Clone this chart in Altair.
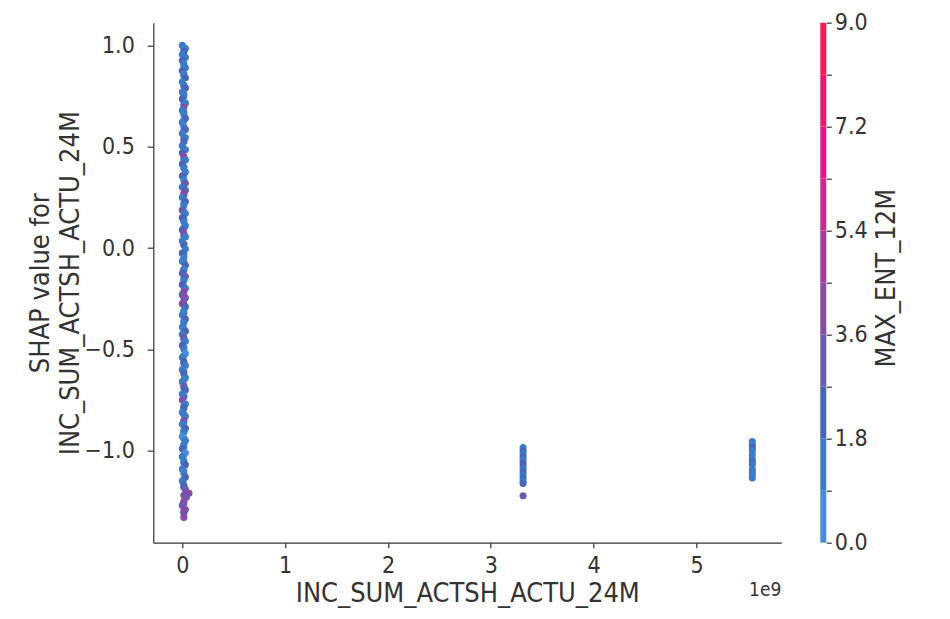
import altair as alt
import pandas as pd

# ---------------- data ----------------
# column of points at INC_SUM_ACTSH_ACTU_24M ~ 0 (back layer of the dense column)
back_shap = [
    0.99, 0.95, 0.90, 0.85, 0.80, 0.76, 0.71, 0.67, 0.63, 0.58,
    0.54, 0.49, 0.44, 0.40, 0.36, 0.31, 0.26, 0.22, 0.18, 0.14,
    0.10, 0.06, 0.02, -0.03, -0.07, -0.11, -0.15, -0.19, -0.24, -0.28,
    -0.32, -0.36, -0.40, -0.45, -0.49, -0.53, -0.57, -0.61, -0.65, -0.69,
    -0.73, -0.78, -0.82, -0.86, -0.90, -0.94, -0.98, -1.02, -1.06, -1.10,
    -1.14, -1.18, -1.22, -1.26, -1.30,
]
back_ent = [
    1, 2, 1, 1, 2, 1, 1, 2, 1, 1,
    2, 1, 1, 2, 1, 1, 2, 1, 1, 2,
    1, 1, 2, 1, 1, 2, 1, 4, 3, 1,
    2, 1, 1, 2, 1, 1, 2, 1, 1, 2,
    1, 1, 2, 1, 1, 2, 1, 1, 2, 1,
    1, 3, 4, 3, 4,
]
back_inc = 1.5e7

# front layer of the same column
zero_inc = [
    0, 3e7, 1.5e7, 0, 3e7, 0, 1.5e7, 3e7, 0, 1.5e7,
    3e7, 0, 1.5e7, 3e7, 0, 1.5e7, 0, 3e7, 1.5e7, 0,
    1.5e7, 3e7, 0, 1.5e7, 3e7, 0, 3e7, 1.5e7, 0, 3e7,
    0, 1.5e7, 3e7, 0, 1.5e7, 3e7, 0, 1.5e7, 3e7, 0,
    3e7, 1.5e7, 0, 3e7, 1.5e7, 0, 3e7, 0, 1.5e7, 3e7,
    0, 1.5e7, 3e7, 0, 1.5e7, 3e7, 0, 1.5e7, 0, 3e7,
    1.5e7, 0, 3e7, 1.5e7, 0, 3e7, 1.5e7, 0, 3e7, 1.5e7,
    0, 3e7, 1.5e7, 0, 3e7, 1.5e7, 0, 3e7, 0, 1.5e7,
    3e7, 0, 1.5e7, 3e7, 0, 1.5e7, 3e7, 0, 1.5e7, 3e7,
    0, 1.5e7, 3e7, 0, 1.5e7, 0, 3e7, 1.5e7, 0, 3e7,
    1.5e7, 0, 3e7, 1.5e7, 0, 3e7, 1.5e7, 0, 3e7, 0,
    1.5e7, 3e7, 0, 1.5e7, 3e7, 0, 1.5e7, 3e7, 6.5e7, 4e7,
    1.5e7, 0, 3e7, 1.5e7, 1.5e7,
]
zero_shap = [
    1.00, 0.985, 0.97, 0.955, 0.94, 0.925, 0.91, 0.89, 0.875, 0.86,
    0.84, 0.82, 0.805, 0.79, 0.77, 0.75, 0.735, 0.715, 0.695, 0.68,
    0.66, 0.64, 0.62, 0.60, 0.585, 0.565, 0.545, 0.525, 0.505, 0.485,
    0.47, 0.453, 0.435, 0.415, 0.395, 0.375, 0.355, 0.335, 0.32, 0.30,
    0.285, 0.27, 0.25, 0.23, 0.21, 0.187, 0.17, 0.15, 0.13, 0.11,
    0.09, 0.073, 0.055, 0.035, 0.015, -0.005, -0.025, -0.045, -0.065, -0.085,
    -0.105, -0.125, -0.14, -0.16, -0.18, -0.20, -0.215, -0.23, -0.245, -0.26,
    -0.275, -0.29, -0.31, -0.33, -0.35, -0.37, -0.39, -0.41, -0.425, -0.44,
    -0.46, -0.48, -0.50, -0.52, -0.54, -0.56, -0.58, -0.60, -0.62, -0.64,
    -0.66, -0.68, -0.70, -0.72, -0.735, -0.75, -0.77, -0.79, -0.81, -0.83,
    -0.85, -0.87, -0.89, -0.91, -0.93, -0.95, -0.97, -0.99, -1.01, -1.03,
    -1.05, -1.07, -1.09, -1.11, -1.13, -1.15, -1.17, -1.19, -1.21, -1.23,
    -1.25, -1.27, -1.29, -1.31, -1.33,
]
zero_ent = [
    1, 1, 2, 1, 1, 2, 1, 1, 2, 1,
    2, 1, 1, 2, 1, 1, 2, 1, 4, 1,
    1, 2, 1, 1, 2, 1, 1, 2, 1, 1,
    2, 4, 1, 2, 1, 1, 2, 1, 3, 1,
    2, 4, 1, 2, 1, 3, 1, 2, 1, 1,
    2, 4, 1, 1, 2, 1, 2, 1, 1, 2,
    1, 2, 3, 1, 2, 1, 4, 3, 4, 3,
    4, 2, 1, 1, 2, 1, 1, 2, 1, 3,
    1, 2, 1, 0, 1, 2, 1, 1, 2, 1,
    1, 3, 2, 1, 1, 4, 1, 2, 1, 1,
    3, 1, 2, 1, 0, 1, 1, 2, 0, 1,
    1, 2, 1, 1, 2, 1, 2, 3, 4, 3,
    4, 3, 4, 3, 4,
]

# cluster at ~3.3e9
mid_inc = 3.314e9
mid_shap = [-0.985, -1.0, -1.015, -1.03, -1.045, -1.06, -1.075,
            -1.09, -1.105, -1.12, -1.135, -1.15, -1.162, -1.222]
mid_ent = [1, 2, 1, 2, 1, 2, 2, 1, 2, 1, 2, 1, 2, 3]

# cluster at ~5.5e9
far_inc = 5.543e9
far_shap = [-0.955, -0.97, -0.985, -1.0, -1.02, -1.04, -1.055,
            -1.07, -1.09, -1.105, -1.12, -1.135]
far_ent = [1, 1, 2, 1, 1, 1, 2, 1, 1, 1, 1, 1]

# colour bar (discrete, 10 bins from 0 to 9)
bin_lo = [0.0, 0.9, 1.8, 2.7, 3.6, 4.5, 5.4, 6.3, 7.2, 8.1]
bin_hi = [0.9, 1.8, 2.7, 3.6, 4.5, 5.4, 6.3, 7.2, 8.1, 9.0]
bin_mid = [0.45, 1.35, 2.25, 3.15, 4.05, 4.95, 5.85, 6.75, 7.65, 8.55]
palette = ["#468fd6", "#3d7dc6", "#4a64b6", "#6a5bb0", "#8a4aa5",
           "#a43c9c", "#c52b92", "#e3148c", "#ec186b", "#f01c55"]
cbar_ticks = [0.0, 0.9, 1.8, 2.7, 3.6, 4.5, 5.4, 6.3, 7.2, 8.1, 9.0]

x_ticks = [0, 1e9, 2e9, 3e9, 4e9, 5e9]
y_ticks = [-1.0, -0.5, 0.0, 0.5, 1.0]

# ---------------- tables ----------------
pts = pd.DataFrame({
    "inc": [back_inc] * len(back_shap) + list(zero_inc)
           + [mid_inc] * len(mid_shap) + [far_inc] * len(far_shap),
    "shap": back_shap + zero_shap + mid_shap + far_shap,
    "ent": back_ent + zero_ent + mid_ent + far_ent,
})
bins = pd.DataFrame({"lo": bin_lo, "hi": bin_hi, "ent": bin_mid})

W, H = 628, 520
FONT = "DejaVu Sans Condensed, DejaVu Sans"
INK = "#333333"

color_scale = alt.Scale(type="quantize", domain=[0, 9], range=palette, nice=False, zero=False)

scatter = alt.Chart(pts).mark_circle(size=50, opacity=1, strokeWidth=0).encode(
    x=alt.X("inc:Q",
            scale=alt.Scale(domain=[-0.282e9, 5.825e9], nice=False, zero=False),
            axis=alt.Axis(values=x_ticks, labelExpr="format(datum.value / 1e9, 'd')",
                          title="INC_SUM_ACTSH_ACTU_24M", titleY=51, titleBaseline="middle",
                          tickSize=5, labelPadding=7)),
    y=alt.Y("shap:Q",
            scale=alt.Scale(domain=[-1.454, 1.112], nice=False, zero=False),
            axis=alt.Axis(values=y_ticks, format=".1f",
                          title=["SHAP value for", "INC_SUM_ACTSH_ACTU_24M"],
                          titleX=-113, titleY=H / 2, titleAlign="center",
                          titleBaseline="middle", titleLineHeight=30,
                          tickSize=6, labelPadding=13)),
    color=alt.Color("ent:Q", scale=color_scale, legend=None),
    order=alt.value(0),
)

cbar = alt.Chart(bins).mark_rect().encode(
    x=alt.value(W + 39), x2=alt.value(W + 45),
    y=alt.Y("lo:Q",
            scale=alt.Scale(domain=[0, 9], nice=False, zero=False),
            axis=alt.Axis(orient="right", offset=45, values=cbar_ticks, domain=False,
                          labelExpr="round(datum.value * 10) % 18 == 0 ? format(datum.value, '.1f') : ''",
                          title="MAX_ENT_12M", titleAngle=270, titleX=60, titleY=255,
                          titleAlign="center", titleBaseline="middle",
                          tickSize=5, labelPadding=3)),
    y2="hi:Q",
    color=alt.Color("ent:Q", scale=color_scale, legend=None),
)

offset = alt.Chart(pd.DataFrame({"t": ["1e9"]})).mark_text(
    align="right", baseline="middle", fontSize=19, font=FONT, color=INK
).encode(text="t:N", x=alt.value(W + 0), y=alt.value(567))

chart = alt.layer(scatter, cbar, offset).resolve_scale(y="independent").properties(
    width=W, height=H,
    autosize=alt.AutoSizeParams(type="none"),
    padding={"left": 145.3, "top": 14.7, "right": 150, "bottom": 74},
).configure_view(stroke=None).configure_axis(
    grid=False, domainColor=INK, tickColor=INK, labelColor=INK, titleColor=INK,
    labelFont=FONT, titleFont=FONT, labelFontSize=23, titleFontSize=27,
    titleFontWeight="normal", domainWidth=1.2, tickWidth=1.2,
)

chart.save("out.html", embed_options={"renderer": "svg", "actions": False})
